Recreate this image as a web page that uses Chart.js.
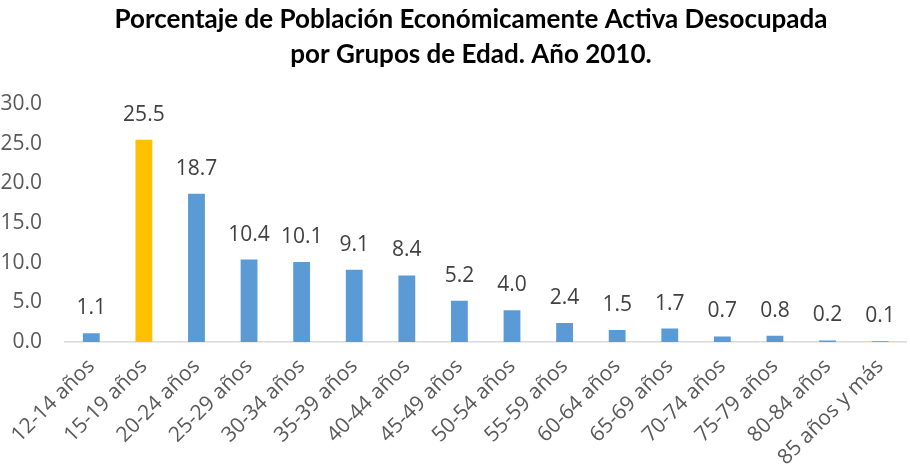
<!DOCTYPE html>
<html>
<head>
<meta charset="utf-8">
<script src="https://cdn.jsdelivr.net/npm/chart.js@4"></script>
<style>
  html, body { margin: 0; padding: 0; background: #fff; }
  #wrap { width: 910px; height: 470px; }
</style>
</head>
<body>
<div id="wrap"><canvas id="desocupados"></canvas></div>
<script>
const categories = ["12-14 años", "15-19 años", "20-24 años", "25-29 años", "30-34 años",
    "35-39 años", "40-44 años", "45-49 años", "50-54 años", "55-59 años", "60-64 años",
    "65-69 años", "70-74 años", "75-79 años", "80-84 años", "85 años y más"];

const porcentajes = [1.1, 25.5, 18.7, 10.4, 10.1, 9.1, 8.4, 5.2, 4.0, 2.4, 1.5, 1.7, 0.7, 0.8, 0.2, 0.1];

const titulo = ["Porcentaje de Población Económicamente Activa Desocupada",
    "por Grupos de Edad. Año 2010."];

// la barra resaltada es la de 15-19 años
const colores = porcentajes.map((v, i) => i === 1 ? "#FFC000" : "#5B9BD5");

const etiquetas = {
    id: "etiquetas",
    afterLayout(chart) {
        // centrar el título un poco más a la derecha, como en el original
        if (chart.titleBlock) {
            chart.titleBlock.left = 32;
            chart.titleBlock.right = 910;
        }
    },
    afterDatasetsDraw(chart) {
        const ctx = chart.ctx;
        const meta = chart.getDatasetMeta(0);
        ctx.save();
        ctx.font = "21px 'Open Sans'";
        ctx.fillStyle = "#404040";
        ctx.textAlign = "center";
        ctx.textBaseline = "middle";
        meta.data.forEach((bar, i) => {
            ctx.fillText(porcentajes[i].toFixed(1), bar.x, bar.y - 25);
        });
        ctx.restore();
    }
};

new Chart(document.getElementById("desocupados"), {
    type: "bar",
    data: {
        labels: categories,
        datasets: [{
            data: porcentajes,
            backgroundColor: colores,
            barPercentage: 0.32,
            categoryPercentage: 1
        }]
    },
    options: {
        responsive: true,
        maintainAspectRatio: false,
        animation: false,
        layout: { padding: { top: 0, right: 2, left: 0, bottom: 0 } },
        plugins: {
            legend: { display: false },
            tooltip: { enabled: false },
            title: {
                display: true,
                text: titulo,
                color: "#000",
                font: { family: "Lato", size: 26, weight: "bold", lineHeight: 1.35 },
                padding: { top: 2, bottom: 32 }
            }
        },
        scales: {
            y: {
                min: 0,
                max: 30,
                ticks: {
                    stepSize: 5,
                    color: "#595959",
                    font: { family: "Open Sans", size: 21 },
                    callback: v => v.toFixed(1),
                    padding: 23
                },
                grid: { display: false, drawTicks: false },
                border: { display: false },
                afterFit(scale) { scale.width = 65; }
            },
            x: {
                ticks: {
                    autoSkip: false,
                    maxRotation: 45,
                    minRotation: 45,
                    color: "#595959",
                    font: { family: "Open Sans", size: 21 },
                    padding: 12
                },
                grid: { display: false, drawTicks: false },
                border: { display: true, color: "#D9D9D9", width: 1.5 },
                afterFit(scale) { scale.height = 128; }
            }
        }
    },
    plugins: [etiquetas]
});
</script>
</body>
</html>
